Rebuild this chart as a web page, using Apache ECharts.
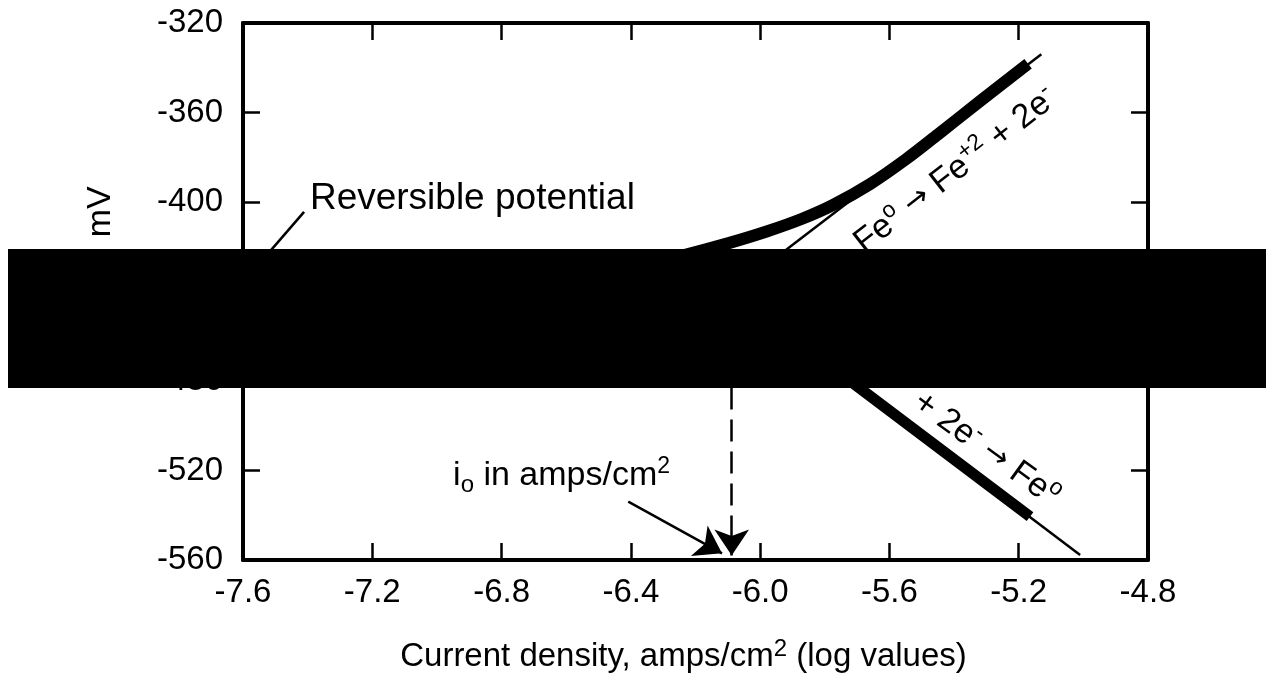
<!DOCTYPE html>
<html>
<head>
<meta charset="utf-8">
<style>
  html, body { margin: 0; padding: 0; background: #fff; }
  #chart { width: 1272px; height: 679px; }
</style>
<script src="https://cdn.jsdelivr.net/npm/echarts@6/dist/echarts.min.js"></script>
</head>
<body>
<div id="chart"></div>
<script>
// axis ranges (log current density, potential in mV)
const xRange = [-7.6, -4.8];
const yRange = [-560, -320];
const xStep = 0.4;
const yStep = 40;

// measured polarization curves (thick)
const anodicMeasured = [
  [-6.45, -431.0], [-6.232, -423.6], [-6.10, -418.5], [-5.98, -413.2],
  [-5.87, -407.5], [-5.774, -401.3], [-5.66, -392.0], [-5.55, -381.0],
  [-5.45, -369.8], [-5.32, -355.0], [-5.171, -338.2]
];
const cathodicMeasured = [
  [-5.85, -466.0], [-5.60, -493.2], [-5.40, -515.0], [-5.165, -540.6]
];

// Tafel lines (thin)
const anodicTafel = [[-6.088, -440], [-5.13, -334]];
const cathodicTafel = [[-6.088, -440], [-5.01, -557.8]];

// exchange current density marker and pointers
const ioLine = [[-6.088, -440], [-6.088, -558]];
const ioPointer = [[-6.408, -533.9], [-6.118, -557]];
const revPointer = [[-7.411, -404.4], [-7.54, -426]];

// annotation anchors (data coords)
const revLabelAt = [-7.393, -398.6];
const ioLabelAt = [-6.950, -522.5];
const anodicLabelAt = [-5.395, -386.0];
const cathodicLabelAt = [-5.300, -510.5];
const yNameAt = [-8.042, -404.4];

const FONT = 'Liberation Sans, Arial, Helvetica, sans-serif';

const chart = echarts.init(document.getElementById('chart'));

const axisCommon = {
  type: 'value',
  axisLine: { show: true, onZero: false, lineStyle: { color: '#000', width: 4 } },
  axisTick: { show: true, inside: true, length: 17, lineStyle: { color: '#000', width: 2.5 } },
  splitLine: { show: false }
};

chart.setOption({
  animation: false,
  backgroundColor: '#fff',
  grid: {
    left: 243, right: 124, top: 23, bottom: 119,
    containLabel: false, outerBoundsMode: 'none'
  },
  xAxis: [
    Object.assign({}, axisCommon, {
      min: xRange[0], max: xRange[1], interval: xStep, position: 'bottom',
      axisLabel: {
        color: '#000', fontSize: 33, fontFamily: FONT, margin: 16,
        formatter: v => v.toFixed(1)
      },
      name: '{a|Current density, amps/cm}{s|2}{a| (log values)}',
      nameLocation: 'middle',
      nameGap: 77,
      nameTextStyle: {
        color: '#000', fontFamily: FONT, fontSize: 33, lineHeight: 40,
        padding: [0, 24, 0, 0],
        rich: {
          a: { fontSize: 33, fontFamily: FONT, color: '#000', lineHeight: 40 },
          s: { fontSize: 24, fontFamily: FONT, color: '#000', verticalAlign: 'top', lineHeight: 40 }
        }
      }
    }),
    Object.assign({}, axisCommon, {
      min: xRange[0], max: xRange[1], interval: xStep, position: 'top',
      axisLabel: { show: false }
    })
  ],
  yAxis: [
    Object.assign({}, axisCommon, {
      min: yRange[0], max: yRange[1], interval: yStep, position: 'left',
      axisLabel: { color: '#000', fontSize: 33, fontFamily: FONT, margin: 20 }
    }),
    Object.assign({}, axisCommon, {
      min: yRange[0], max: yRange[1], interval: yStep, position: 'right',
      axisLabel: { show: false }
    })
  ],
  series: [
    {
      type: 'line', data: anodicTafel, showSymbol: false, symbol: 'none',
      lineStyle: { color: '#000', width: 2.5 }, z: 2
    },
    {
      type: 'line', data: cathodicTafel, showSymbol: false, symbol: 'none',
      lineStyle: { color: '#000', width: 2.5 }, z: 2
    },
    {
      type: 'line', data: anodicMeasured, showSymbol: false, symbol: 'none', smooth: 0.3,
      lineStyle: { color: '#000', width: 12, cap: 'butt' }, z: 3
    },
    {
      type: 'line', data: cathodicMeasured, showSymbol: false, symbol: 'none',
      lineStyle: { color: '#000', width: 11, cap: 'butt' }, z: 3
    },
    {
      type: 'lines', coordinateSystem: 'cartesian2d', polyline: false,
      symbol: ['none', 'arrow'], symbolSize: [17, 26],
      lineStyle: { color: '#000', width: 2.5, type: [22, 10], opacity: 1 },
      data: [{ coords: ioLine }], z: 4
    },
    {
      type: 'lines', coordinateSystem: 'cartesian2d', polyline: false,
      symbol: ['none', 'arrow'], symbolSize: [16, 26],
      lineStyle: { color: '#000', width: 2.5, opacity: 1 },
      data: [{ coords: ioPointer }], z: 4
    },
    {
      type: 'lines', coordinateSystem: 'cartesian2d', polyline: false,
      symbol: ['none', 'none'],
      lineStyle: { color: '#000', width: 2.5, opacity: 1 },
      data: [{ coords: revPointer }], z: 4
    }
  ]
});

function px(pt) {
  return chart.convertToPixel({ xAxisIndex: 0, yAxisIndex: 0 }, pt);
}

const t = { fontSize: 34, fontFamily: FONT, fill: '#000', lineHeight: 42 };
const sup = { fontSize: 23, fontFamily: FONT, fill: '#000', verticalAlign: 'top', lineHeight: 42 };
const sub = { fontSize: 24, fontFamily: FONT, fill: '#000', verticalAlign: 'bottom', lineHeight: 42 };
const ar = { fontSize: 30, fontFamily: 'DejaVu Sans, sans-serif', fill: '#000', lineHeight: 42 };

function label(at, text, opts) {
  const p = px(at);
  return Object.assign({
    type: 'text', x: p[0], y: p[1], z: 50,
    style: {
      text: text, fontSize: 34, fontFamily: FONT, fill: '#000',
      align: 'center', verticalAlign: 'middle',
      rich: { t: t, s: sup, b: sub, ar: ar }
    }
  }, opts || {});
}

const revEl = label(revLabelAt, 'Reversible potential');
revEl.style.align = 'left';
revEl.style.fontSize = 37;

const ioEl = label(ioLabelAt, '{t|i}{b|o}{t| in amps/cm}{s|2}');
ioEl.style.align = 'left';

chart.setOption({
  graphic: [
    revEl,
    ioEl,
    label(anodicLabelAt, '{t|Fe}{s|o}{ar| \u2192 }{t|Fe}{s|+2}{t| + 2e}{s|-}', { rotation: 38 * Math.PI / 180 }),
    label(cathodicLabelAt, '{t|+ 2e}{s|-}{ar| \u2192 }{t|Fe}{s|o}', { rotation: -36 * Math.PI / 180 }),
    label(yNameAt, 'mV', { rotation: Math.PI / 2 }),
    {
      type: 'rect', z: 100,
      shape: { x: 8, y: 249, width: 1258, height: 139 },
      style: { fill: '#000' }
    }
  ]
});
</script>
</body>
</html>
